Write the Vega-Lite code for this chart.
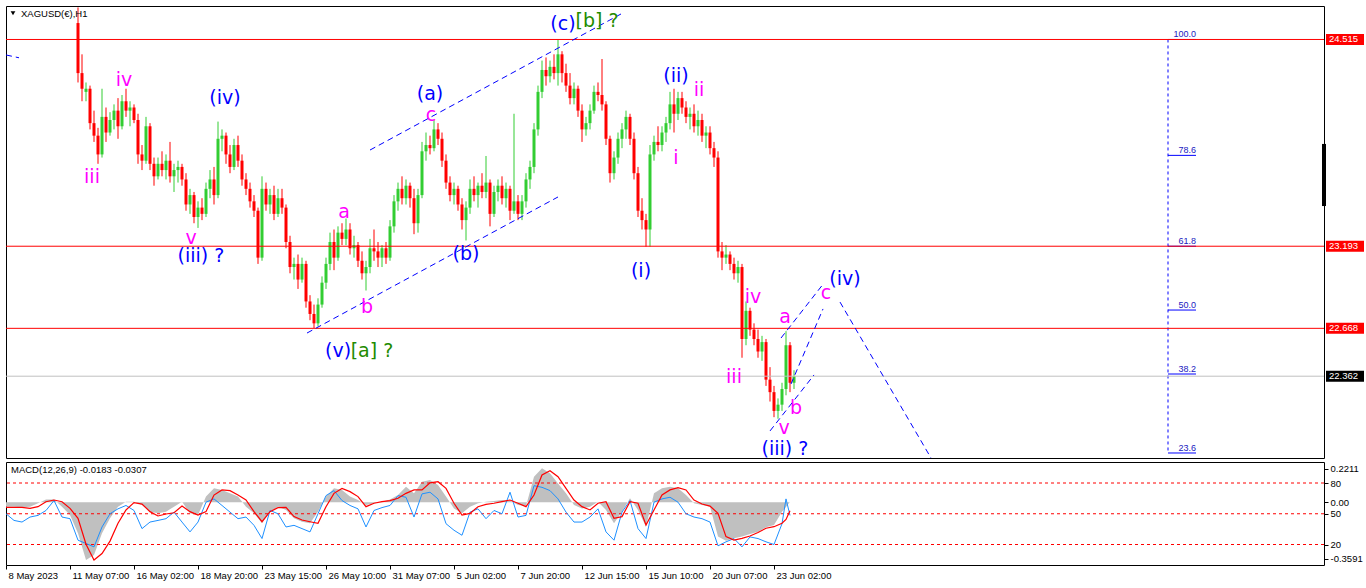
{
"$schema":"https://vega.github.io/schema/vega-lite/v6.json",
"background":"white",
"padding":{"left":5,"top":5,"right":0,"bottom":22},
"bounds":"flush",
"spacing":4,
"config":{"view":{"stroke":"black","strokeWidth":1},
"axis":{"labelFont":"Liberation Sans","labelFontSize":9.5,"labelColor":"black","tickColor":"black","domain":false,"grid":false,"tickSize":4,"labelPadding":2}},
"datasets":{
"candles":[
{"i":72,"o":24.62,"h":24.72,"l":24.24,"c":24.30},{"i":76,"o":24.30,"h":24.42,"l":24.12,"c":24.20},{"i":80,"o":24.18,"h":24.24,"l":24.12,"c":24.20},{"i":84,"o":24.20,"h":24.22,"l":23.94,"c":23.98},{"i":88,"o":23.98,"h":24.06,"l":23.86,"c":23.90},{"i":92,"o":23.90,"h":23.95,"l":23.72,"c":23.78},{"i":96,"o":23.78,"h":24.20,"l":23.76,"c":24.02},{"i":100,"o":24.02,"h":24.08,"l":23.86,"c":23.92},{"i":104,"o":23.92,"h":24.05,"l":23.90,"c":24.00},{"i":108,"o":24.00,"h":24.10,"l":23.94,"c":24.06},{"i":112,"o":24.06,"h":24.14,"l":23.88,"c":23.96},{"i":116,"o":23.96,"h":24.16,"l":23.94,"c":24.12},{"i":120,"o":24.12,"h":24.20,"l":24.02,"c":24.06},{"i":124,"o":24.06,"h":24.12,"l":23.96,"c":24.08},{"i":128,"o":24.08,"h":24.10,"l":23.98,"c":24.00},{"i":132,"o":24.00,"h":24.04,"l":23.72,"c":23.78},{"i":136,"o":23.78,"h":23.84,"l":23.68,"c":23.74},{"i":140,"o":23.74,"h":24.02,"l":23.72,"c":23.96},{"i":144,"o":23.96,"h":23.98,"l":23.68,"c":23.72},{"i":148,"o":23.72,"h":23.76,"l":23.58,"c":23.64},{"i":152,"o":23.64,"h":23.76,"l":23.62,"c":23.72},{"i":156,"o":23.72,"h":23.80,"l":23.64,"c":23.68},{"i":160,"o":23.68,"h":23.78,"l":23.62,"c":23.74},{"i":164,"o":23.74,"h":23.86,"l":23.60,"c":23.64},{"i":168,"o":23.64,"h":23.72,"l":23.54,"c":23.68},{"i":172,"o":23.68,"h":23.74,"l":23.60,"c":23.70},{"i":176,"o":23.70,"h":23.72,"l":23.58,"c":23.62},{"i":180,"o":23.62,"h":23.66,"l":23.42,"c":23.46},{"i":184,"o":23.46,"h":23.56,"l":23.40,"c":23.52},{"i":188,"o":23.52,"h":23.54,"l":23.34,"c":23.38},{"i":192,"o":23.38,"h":23.48,"l":23.31,"c":23.44},{"i":196,"o":23.44,"h":23.50,"l":23.36,"c":23.40},{"i":200,"o":23.40,"h":23.60,"l":23.38,"c":23.56},{"i":204,"o":23.56,"h":23.68,"l":23.50,"c":23.62},{"i":208,"o":23.62,"h":23.70,"l":23.46,"c":23.52},{"i":212,"o":23.52,"h":23.99,"l":23.50,"c":23.88},{"i":216,"o":23.88,"h":23.94,"l":23.80,"c":23.90},{"i":220,"o":23.90,"h":23.92,"l":23.72,"c":23.78},{"i":224,"o":23.78,"h":23.84,"l":23.66,"c":23.70},{"i":228,"o":23.70,"h":23.88,"l":23.68,"c":23.84},{"i":232,"o":23.84,"h":23.90,"l":23.70,"c":23.74},{"i":236,"o":23.74,"h":23.78,"l":23.58,"c":23.62},{"i":240,"o":23.62,"h":23.66,"l":23.52,"c":23.56},{"i":244,"o":23.56,"h":23.60,"l":23.44,"c":23.48},{"i":248,"o":23.48,"h":23.52,"l":23.38,"c":23.42},{"i":252,"o":23.42,"h":23.44,"l":23.08,"c":23.12},{"i":256,"o":23.12,"h":23.64,"l":23.10,"c":23.56},{"i":260,"o":23.56,"h":23.60,"l":23.42,"c":23.46},{"i":264,"o":23.46,"h":23.56,"l":23.40,"c":23.52},{"i":268,"o":23.52,"h":23.58,"l":23.36,"c":23.40},{"i":272,"o":23.40,"h":23.56,"l":23.38,"c":23.50},{"i":276,"o":23.50,"h":23.56,"l":23.40,"c":23.44},{"i":280,"o":23.44,"h":23.46,"l":23.18,"c":23.22},{"i":284,"o":23.22,"h":23.26,"l":23.02,"c":23.06},{"i":288,"o":23.06,"h":23.12,"l":22.98,"c":23.08},{"i":292,"o":23.08,"h":23.14,"l":22.92,"c":22.98},{"i":296,"o":22.98,"h":23.12,"l":22.96,"c":23.08},{"i":300,"o":23.08,"h":23.10,"l":22.80,"c":22.84},{"i":304,"o":22.84,"h":22.88,"l":22.72,"c":22.76},{"i":308,"o":22.76,"h":22.82,"l":22.67,"c":22.70},{"i":312,"o":22.70,"h":22.86,"l":22.68,"c":22.82},{"i":316,"o":22.82,"h":23.00,"l":22.80,"c":22.96},{"i":320,"o":22.96,"h":23.12,"l":22.92,"c":23.08},{"i":324,"o":23.08,"h":23.28,"l":23.04,"c":23.22},{"i":328,"o":23.22,"h":23.30,"l":23.04,"c":23.12},{"i":332,"o":23.12,"h":23.32,"l":23.10,"c":23.28},{"i":336,"o":23.28,"h":23.34,"l":23.20,"c":23.24},{"i":340,"o":23.24,"h":23.37,"l":23.20,"c":23.30},{"i":344,"o":23.30,"h":23.34,"l":23.14,"c":23.18},{"i":348,"o":23.18,"h":23.26,"l":23.12,"c":23.20},{"i":352,"o":23.20,"h":23.22,"l":23.06,"c":23.10},{"i":356,"o":23.10,"h":23.16,"l":22.98,"c":23.02},{"i":360,"o":23.02,"h":23.10,"l":22.91,"c":23.06},{"i":364,"o":23.06,"h":23.24,"l":23.02,"c":23.18},{"i":368,"o":23.18,"h":23.30,"l":23.10,"c":23.16},{"i":372,"o":23.16,"h":23.22,"l":23.06,"c":23.12},{"i":376,"o":23.12,"h":23.20,"l":23.06,"c":23.18},{"i":380,"o":23.18,"h":23.22,"l":23.08,"c":23.12},{"i":384,"o":23.12,"h":23.36,"l":23.10,"c":23.32},{"i":388,"o":23.32,"h":23.52,"l":23.28,"c":23.48},{"i":392,"o":23.48,"h":23.60,"l":23.42,"c":23.56},{"i":396,"o":23.56,"h":23.64,"l":23.46,"c":23.50},{"i":400,"o":23.50,"h":23.62,"l":23.46,"c":23.58},{"i":404,"o":23.58,"h":23.60,"l":23.44,"c":23.50},{"i":408,"o":23.50,"h":23.56,"l":23.27,"c":23.34},{"i":412,"o":23.34,"h":23.56,"l":23.28,"c":23.52},{"i":416,"o":23.52,"h":23.86,"l":23.50,"c":23.80},{"i":420,"o":23.80,"h":23.92,"l":23.74,"c":23.84},{"i":424,"o":23.84,"h":23.90,"l":23.78,"c":23.82},{"i":428,"o":23.82,"h":24.00,"l":23.80,"c":23.94},{"i":432,"o":23.94,"h":23.98,"l":23.84,"c":23.88},{"i":436,"o":23.88,"h":23.92,"l":23.70,"c":23.74},{"i":440,"o":23.74,"h":23.78,"l":23.56,"c":23.60},{"i":444,"o":23.60,"h":23.64,"l":23.48,"c":23.52},{"i":448,"o":23.52,"h":23.60,"l":23.46,"c":23.56},{"i":452,"o":23.56,"h":23.58,"l":23.42,"c":23.46},{"i":456,"o":23.46,"h":23.50,"l":23.30,"c":23.36},{"i":460,"o":23.36,"h":23.48,"l":23.23,"c":23.44},{"i":464,"o":23.44,"h":23.62,"l":23.40,"c":23.56},{"i":468,"o":23.56,"h":23.64,"l":23.48,"c":23.52},{"i":472,"o":23.52,"h":23.60,"l":23.44,"c":23.58},{"i":476,"o":23.58,"h":23.66,"l":23.50,"c":23.54},{"i":480,"o":23.54,"h":23.77,"l":23.50,"c":23.60},{"i":484,"o":23.60,"h":23.62,"l":23.32,"c":23.40},{"i":488,"o":23.40,"h":23.58,"l":23.38,"c":23.54},{"i":492,"o":23.54,"h":23.62,"l":23.48,"c":23.58},{"i":496,"o":23.58,"h":23.64,"l":23.46,"c":23.50},{"i":500,"o":23.50,"h":23.60,"l":23.44,"c":23.56},{"i":504,"o":23.56,"h":23.58,"l":23.36,"c":23.42},{"i":508,"o":23.42,"h":24.04,"l":23.40,"c":23.48},{"i":512,"o":23.48,"h":23.52,"l":23.36,"c":23.40},{"i":516,"o":23.40,"h":23.52,"l":23.36,"c":23.48},{"i":520,"o":23.48,"h":23.66,"l":23.44,"c":23.62},{"i":524,"o":23.62,"h":23.74,"l":23.56,"c":23.70},{"i":528,"o":23.70,"h":23.98,"l":23.66,"c":23.94},{"i":532,"o":23.94,"h":24.22,"l":23.90,"c":24.18},{"i":536,"o":24.18,"h":24.38,"l":24.14,"c":24.32},{"i":540,"o":24.32,"h":24.40,"l":24.22,"c":24.28},{"i":544,"o":24.28,"h":24.38,"l":24.24,"c":24.34},{"i":548,"o":24.34,"h":24.42,"l":24.26,"c":24.30},{"i":552,"o":24.30,"h":24.515,"l":24.22,"c":24.42},{"i":556,"o":24.42,"h":24.44,"l":24.24,"c":24.30},{"i":560,"o":24.30,"h":24.36,"l":24.18,"c":24.22},{"i":564,"o":24.22,"h":24.30,"l":24.10,"c":24.14},{"i":568,"o":24.14,"h":24.24,"l":24.10,"c":24.20},{"i":572,"o":24.20,"h":24.22,"l":24.02,"c":24.06},{"i":576,"o":24.06,"h":24.10,"l":23.86,"c":23.94},{"i":580,"o":23.94,"h":24.02,"l":23.90,"c":23.98},{"i":584,"o":23.98,"h":24.10,"l":23.94,"c":24.06},{"i":588,"o":24.06,"h":24.22,"l":24.04,"c":24.18},{"i":592,"o":24.18,"h":24.24,"l":24.12,"c":24.16},{"i":596,"o":24.16,"h":24.39,"l":24.06,"c":24.10},{"i":600,"o":24.10,"h":24.12,"l":23.84,"c":23.88},{"i":604,"o":23.88,"h":23.90,"l":23.60,"c":23.66},{"i":608,"o":23.66,"h":23.80,"l":23.62,"c":23.76},{"i":612,"o":23.76,"h":23.92,"l":23.72,"c":23.88},{"i":616,"o":23.88,"h":23.98,"l":23.82,"c":23.94},{"i":620,"o":23.94,"h":24.06,"l":23.88,"c":24.02},{"i":624,"o":24.02,"h":24.04,"l":23.84,"c":23.88},{"i":628,"o":23.88,"h":23.92,"l":23.62,"c":23.66},{"i":632,"o":23.66,"h":23.70,"l":23.38,"c":23.42},{"i":636,"o":23.42,"h":23.50,"l":23.30,"c":23.36},{"i":640,"o":23.36,"h":23.40,"l":23.19,"c":23.30},{"i":644,"o":23.30,"h":23.84,"l":23.19,"c":23.78},{"i":648,"o":23.78,"h":23.90,"l":23.74,"c":23.86},{"i":652,"o":23.86,"h":23.96,"l":23.80,"c":23.84},{"i":656,"o":23.84,"h":23.96,"l":23.80,"c":23.92},{"i":660,"o":23.92,"h":24.02,"l":23.86,"c":23.98},{"i":664,"o":23.98,"h":24.18,"l":23.94,"c":24.10},{"i":668,"o":24.10,"h":24.20,"l":23.92,"c":24.04},{"i":672,"o":24.04,"h":24.18,"l":24.00,"c":24.14},{"i":676,"o":24.14,"h":24.18,"l":24.04,"c":24.08},{"i":680,"o":24.08,"h":24.12,"l":23.98,"c":24.02},{"i":684,"o":24.02,"h":24.08,"l":23.94,"c":24.04},{"i":688,"o":24.04,"h":24.10,"l":23.92,"c":23.96},{"i":692,"o":23.96,"h":24.06,"l":23.90,"c":24.00},{"i":696,"o":24.00,"h":24.04,"l":23.86,"c":23.90},{"i":700,"o":23.90,"h":23.96,"l":23.82,"c":23.92},{"i":704,"o":23.92,"h":23.96,"l":23.78,"c":23.82},{"i":708,"o":23.82,"h":23.86,"l":23.70,"c":23.76},{"i":712,"o":23.76,"h":23.80,"l":23.12,"c":23.16},{"i":716,"o":23.16,"h":23.22,"l":23.04,"c":23.12},{"i":720,"o":23.12,"h":23.20,"l":23.08,"c":23.14},{"i":724,"o":23.14,"h":23.16,"l":23.04,"c":23.08},{"i":728,"o":23.08,"h":23.12,"l":22.98,"c":23.02},{"i":732,"o":23.02,"h":23.10,"l":22.96,"c":23.06},{"i":736,"o":23.06,"h":23.08,"l":22.48,"c":22.60},{"i":740,"o":22.60,"h":22.84,"l":22.56,"c":22.78},{"i":744,"o":22.78,"h":22.80,"l":22.62,"c":22.66},{"i":748,"o":22.66,"h":22.70,"l":22.56,"c":22.60},{"i":752,"o":22.60,"h":22.66,"l":22.48,"c":22.52},{"i":756,"o":22.52,"h":22.62,"l":22.46,"c":22.58},{"i":760,"o":22.58,"h":22.60,"l":22.30,"c":22.34},{"i":764,"o":22.34,"h":22.42,"l":22.20,"c":22.26},{"i":768,"o":22.26,"h":22.30,"l":22.10,"c":22.14},{"i":772,"o":22.14,"h":22.22,"l":22.09,"c":22.18},{"i":776,"o":22.18,"h":22.32,"l":22.14,"c":22.28},{"i":780,"o":22.28,"h":22.65,"l":22.24,"c":22.56},{"i":784,"o":22.56,"h":22.58,"l":22.26,"c":22.32},{"i":788,"o":22.32,"h":22.40,"l":22.28,"c":22.362}
],
"levels":[{"p":24.515,"kind":"r"},{"p":23.193,"kind":"r"},{"p":22.668,"kind":"r"},{"p":22.362,"kind":"g"}],
"fib":[{"lv":"100.0","p":24.515},{"lv":"78.6","p":23.774},{"lv":"61.8","p":23.193},{"lv":"50.0","p":22.785},{"lv":"38.2","p":22.376},{"lv":"23.6","p":21.871}],
"trend":[{"id":"u","i":364,"p":23.808},{"id":"u","i":615,"p":24.678},{"id":"l","i":301,"p":22.638},{"id":"l","i":552,"p":23.508},{"id":"e1","i":775,"p":22.606},{"id":"e1","i":818,"p":22.958},{"id":"e2","i":764,"p":22.012},{"id":"e2","i":808,"p":22.370},{"id":"e3","i":785,"p":22.312},{"id":"e3","i":817,"p":22.792},{"id":"e4","i":834,"p":22.836},{"id":"e4","i":925,"p":21.839},{"id":"t0","i":0,"p":24.416},{"id":"t0","i":13,"p":24.398}],
"waves":[
{"t":"iii","i":86,"p":23.597,"g":"m"},{"t":"iv","i":118,"p":24.218,"g":"m"},{"t":"v","i":185,"p":23.207,"g":"m"},{"t":"a","i":338,"p":23.374,"g":"m"},{"t":"b","i":361,"p":22.766,"g":"m"},{"t":"c","i":425,"p":23.994,"g":"m"},{"t":"i","i":670,"p":23.719,"g":"m"},{"t":"ii","i":693,"p":24.154,"g":"m"},{"t":"iv","i":747,"p":22.83,"g":"m"},{"t":"iii","i":728,"p":22.318,"g":"m"},{"t":"a","i":779,"p":22.702,"g":"m"},{"t":"b","i":790,"p":22.12,"g":"m"},{"t":"v","i":778,"p":21.992,"g":"m"},{"t":"c","i":820,"p":22.856,"g":"m"},
{"t":"(iv)","i":219,"p":24.102,"g":"b"},{"t":"(iii) ?","i":195,"p":23.092,"g":"b"},{"t":"(v)","i":332,"p":22.485,"g":"b"},{"t":"[a] ?","i":366,"p":22.485,"g":"g"},{"t":"(a)","i":424,"p":24.128,"g":"b"},{"t":"(b)","i":460,"p":23.105,"g":"b"},{"t":"(c)","i":557,"p":24.576,"g":"b"},{"t":"[b] ?","i":591,"p":24.595,"g":"g"},{"t":"(ii)","i":670,"p":24.243,"g":"b"},{"t":"(i)","i":635,"p":22.996,"g":"b"},{"t":"(iv)","i":839,"p":22.945,"g":"b"},{"t":"(iii) ?","i":779,"p":21.858,"g":"b"}
],
"macd":[
{"i":0,"m":-0.028,"sg":-0.032,"k":50.0},{"i":8,"m":-0.028,"sg":-0.032,"k":43.5},{"i":16,"m":-0.032,"sg":-0.032,"k":41.9},{"i":24,"m":-0.028,"sg":-0.039,"k":46.8},{"i":32,"m":-0.006,"sg":-0.028,"k":48.4},{"i":40,"m":0.019,"sg":0.004,"k":53.2},{"i":48,"m":0.019,"sg":0.015,"k":62.9},{"i":56,"m":-0.028,"sg":0.004,"k":46.8},{"i":64,"m":-0.082,"sg":-0.039,"k":45.2},{"i":72,"m":-0.2,"sg":-0.103,"k":24.2},{"i":80,"m":-0.372,"sg":-0.27,"k":21.0},{"i":88,"m":-0.34,"sg":-0.372,"k":17.7},{"i":96,"m":-0.2,"sg":-0.33,"k":37.1},{"i":104,"m":-0.103,"sg":-0.25,"k":50.0},{"i":112,"m":-0.028,"sg":-0.135,"k":54.8},{"i":120,"m":0.004,"sg":-0.049,"k":58.1},{"i":128,"m":0.004,"sg":-0.002,"k":53.2},{"i":136,"m":-0.017,"sg":-0.011,"k":35.5},{"i":144,"m":-0.06,"sg":-0.06,"k":41.9},{"i":152,"m":-0.071,"sg":-0.088,"k":43.5},{"i":160,"m":-0.06,"sg":-0.075,"k":45.2},{"i":168,"m":-0.028,"sg":-0.067,"k":51.6},{"i":176,"m":0.004,"sg":-0.024,"k":41.9},{"i":184,"m":-0.071,"sg":-0.06,"k":32.3},{"i":192,"m":-0.082,"sg":-0.082,"k":41.9},{"i":200,"m":0.037,"sg":-0.06,"k":61.3},{"i":208,"m":0.09,"sg":0.047,"k":64.5},{"i":216,"m":0.08,"sg":0.08,"k":58.1},{"i":224,"m":0.058,"sg":0.075,"k":51.6},{"i":232,"m":0.037,"sg":0.047,"k":45.2},{"i":240,"m":-0.028,"sg":0.015,"k":46.8},{"i":248,"m":-0.071,"sg":-0.06,"k":38.7},{"i":256,"m":-0.135,"sg":-0.125,"k":25.8},{"i":264,"m":-0.06,"sg":-0.06,"k":53.2},{"i":272,"m":-0.028,"sg":-0.034,"k":50.0},{"i":280,"m":-0.049,"sg":-0.032,"k":37.1},{"i":288,"m":-0.103,"sg":-0.092,"k":38.7},{"i":296,"m":-0.125,"sg":-0.114,"k":35.5},{"i":304,"m":-0.135,"sg":-0.125,"k":32.3},{"i":312,"m":-0.06,"sg":-0.135,"k":50.0},{"i":320,"m":0.037,"sg":-0.028,"k":67.7},{"i":328,"m":0.09,"sg":0.058,"k":72.6},{"i":336,"m":0.08,"sg":0.09,"k":62.9},{"i":344,"m":0.037,"sg":0.069,"k":58.1},{"i":352,"m":0.015,"sg":0.037,"k":54.8},{"i":360,"m":-0.017,"sg":-0.028,"k":37.1},{"i":368,"m":-0.006,"sg":-0.006,"k":53.2},{"i":376,"m":0.004,"sg":0.004,"k":56.0},{"i":384,"m":0.019,"sg":0.011,"k":58.1},{"i":392,"m":0.047,"sg":0.026,"k":67.7},{"i":400,"m":0.101,"sg":0.058,"k":66.1},{"i":408,"m":0.058,"sg":0.08,"k":46.8},{"i":416,"m":0.133,"sg":0.08,"k":69.4},{"i":424,"m":0.144,"sg":0.126,"k":71.0},{"i":432,"m":0.112,"sg":0.133,"k":64.5},{"i":440,"m":0.037,"sg":0.09,"k":40.3},{"i":448,"m":-0.039,"sg":-0.006,"k":33.9},{"i":456,"m":-0.071,"sg":-0.082,"k":29.0},{"i":464,"m":-0.028,"sg":-0.071,"k":51.6},{"i":472,"m":-0.006,"sg":-0.028,"k":54.8},{"i":480,"m":0.004,"sg":-0.013,"k":45.2},{"i":488,"m":0.009,"sg":-0.006,"k":53.2},{"i":496,"m":0.015,"sg":0.004,"k":50.0},{"i":504,"m":0.011,"sg":0.015,"k":71.0},{"i":512,"m":-0.017,"sg":-0.006,"k":46.8},{"i":520,"m":-0.024,"sg":-0.028,"k":48.4},{"i":528,"m":0.165,"sg":0.047,"k":77.4},{"i":536,"m":0.219,"sg":0.176,"k":75.8},{"i":544,"m":0.187,"sg":0.204,"k":72.6},{"i":552,"m":0.122,"sg":0.165,"k":64.5},{"i":560,"m":0.058,"sg":0.09,"k":51.6},{"i":568,"m":-0.017,"sg":0.015,"k":41.9},{"i":576,"m":-0.039,"sg":-0.028,"k":41.9},{"i":584,"m":-0.028,"sg":-0.049,"k":46.8},{"i":592,"m":0.004,"sg":-0.006,"k":54.8},{"i":600,"m":-0.049,"sg":0.004,"k":32.3},{"i":608,"m":-0.135,"sg":-0.103,"k":24.2},{"i":616,"m":-0.06,"sg":-0.092,"k":51.6},{"i":624,"m":0.026,"sg":0.004,"k":62.9},{"i":632,"m":-0.049,"sg":-0.006,"k":35.5},{"i":640,"m":-0.157,"sg":-0.146,"k":25.8},{"i":648,"m":0.058,"sg":-0.049,"k":61.3},{"i":656,"m":0.09,"sg":0.047,"k":64.5},{"i":664,"m":0.101,"sg":0.08,"k":66.1},{"i":672,"m":0.09,"sg":0.095,"k":61.3},{"i":680,"m":0.047,"sg":0.08,"k":50.0},{"i":688,"m":-0.006,"sg":0.015,"k":46.8},{"i":696,"m":-0.017,"sg":-0.011,"k":45.2},{"i":704,"m":-0.028,"sg":-0.024,"k":41.9},{"i":712,"m":-0.221,"sg":-0.071,"k":18.7},{"i":720,"m":-0.247,"sg":-0.221,"k":22.6},{"i":728,"m":-0.232,"sg":-0.243,"k":25.8},{"i":736,"m":-0.221,"sg":-0.232,"k":17.7},{"i":744,"m":-0.204,"sg":-0.217,"k":27.4},{"i":752,"m":-0.189,"sg":-0.195,"k":25.8},{"i":760,"m":-0.161,"sg":-0.167,"k":22.6},{"i":768,"m":-0.146,"sg":-0.157,"k":20.0},{"i":776,"m":-0.06,"sg":-0.135,"k":40.3},{"i":780,"m":-0.03,"sg":-0.11,"k":64.5},{"i":784,"m":0.004,"sg":-0.054,"k":48.4}
],
"stochlv":[{"lv":80},{"lv":50},{"lv":20}],
"macdlabel":[{"i":5,"t":"MACD(12,26,9) -0.0183 -0.0307"}]
},
"vconcat":[
{
"width":1318,"height":452,
"layer":[
{"data":{"name":"candles"},"mark":{"type":"rule","strokeWidth":1,"clip":true},
"encoding":{
"x":{"field":"i","type":"quantitative","scale":{"domain":[0,1318],"nice":false,"zero":false},"axis":null},
"y":{"field":"h","type":"quantitative","scale":{"domain":[21.839,24.729],"nice":false,"zero":false},"axis":{"orient":"right","title":null,"values":[24.595,24.385,24.175,23.96,23.75,23.54,23.33,23.12,22.91,22.7,22.49,22.28,22.07,21.86],"format":".3f"}},
"y2":{"field":"l"},
"color":{"condition":{"test":"datum.c >= datum.o","value":"#32cd32"},"value":"#ff0000"}}},
{"data":{"name":"candles"},"mark":{"type":"rule","strokeWidth":3,"clip":true},
"encoding":{
"x":{"field":"i","type":"quantitative","axis":null},
"y":{"field":"o","type":"quantitative","axis":null},
"y2":{"field":"c"},
"color":{"condition":{"test":"datum.c >= datum.o","value":"#32cd32"},"value":"#ff0000"}}},
{"data":{"name":"fib"},"mark":{"type":"rule","color":"#0000ff","strokeDash":[3,3],"strokeWidth":1},
"encoding":{"x":{"datum":1162,"type":"quantitative","axis":null},"y":{"aggregate":"max","field":"p","type":"quantitative","axis":null},"y2":{"aggregate":"min","field":"p"}}},
{"data":{"name":"fib"},"mark":{"type":"rule","color":"#0000ff","strokeWidth":1},
"encoding":{"x":{"datum":1162,"type":"quantitative","axis":null},"x2":{"datum":1190},"y":{"field":"p","type":"quantitative","axis":null}}},
{"data":{"name":"fib"},"mark":{"type":"text","align":"right","baseline":"alphabetic","dy":-2,"font":"Liberation Sans","fontSize":9,"color":"#2020c0"},
"encoding":{"x":{"datum":1190,"type":"quantitative","axis":null},"y":{"field":"p","type":"quantitative","axis":null},"text":{"field":"lv"}}},
{"data":{"name":"levels"},"mark":{"type":"rule","strokeWidth":1},
"encoding":{"y":{"field":"p","type":"quantitative","axis":null},
"color":{"condition":{"test":"datum.kind == 'r'","value":"#ff0000"},"value":"#c0c0c0"}}},
{"data":{"name":"trend"},"mark":{"type":"line","color":"#0000ff","strokeWidth":1,"strokeDash":[6,4],"clip":true},
"encoding":{"x":{"field":"i","type":"quantitative","axis":null},"y":{"field":"p","type":"quantitative","axis":null},"detail":{"field":"id"}}},
{"data":{"name":"waves"},"mark":{"type":"text","align":"center","baseline":"alphabetic","font":"DejaVu Sans","fontSize":19},
"encoding":{"x":{"field":"i","type":"quantitative","axis":null},"y":{"field":"p","type":"quantitative","axis":null},"text":{"field":"t"},
"color":{"field":"g","type":"nominal","scale":{"domain":["m","b","g"],"range":["#ff00ff","#0000ff","#228b00"]},"legend":null}}},
{"data":{"values":[{"t":"XAGUSD(€),H1"}]},"mark":{"type":"text","align":"left","baseline":"alphabetic","font":"Liberation Sans","fontSize":9.5,"color":"black"},
"encoding":{"x":{"datum":15,"type":"quantitative","axis":null},"y":{"datum":24.659,"type":"quantitative","axis":null},"text":{"field":"t"}}},
{"data":{"values":[{"t":"menu"}]},"mark":{"type":"point","shape":"triangle-down","filled":true,"size":22,"color":"black","opacity":1},
"encoding":{"x":{"datum":7,"type":"quantitative","axis":null},"y":{"datum":24.683,"type":"quantitative","axis":null}}},
{"data":{"values":[{"t":"scale"}]},"mark":{"type":"rule","strokeWidth":4,"color":"black"},
"encoding":{"x":{"datum":1318,"type":"quantitative","axis":null},"y":{"datum":23.847,"type":"quantitative","axis":null},"y2":{"datum":23.45}}},
{"data":{"name":"levels"},"mark":{"type":"rule","strokeWidth":11,"strokeCap":"butt"},
"encoding":{"x":{"datum":1320,"type":"quantitative","axis":null},"x2":{"datum":1358},"y":{"field":"p","type":"quantitative","axis":null},
"color":{"condition":{"test":"datum.kind == 'r'","value":"#ff0000"},"value":"#000000"}}},
{"data":{"name":"levels"},"mark":{"type":"text","align":"left","baseline":"middle","font":"Liberation Sans","fontSize":9.5,"color":"white"},
"encoding":{"x":{"datum":1323,"type":"quantitative","axis":null},"y":{"field":"p","type":"quantitative","axis":null},"text":{"field":"p","format":".3f"}}}
]
},
{
"width":1318,"height":103,
"resolve":{"scale":{"y":"independent"}},
"layer":[
{"data":{"name":"macd"},"mark":{"type":"area","color":"#c0c0c0","clip":true},
"encoding":{
"x":{"field":"i","type":"quantitative","scale":{"domain":[0,1318],"nice":false,"zero":false},
"axis":{"orient":"bottom","values":[0,64,128,192,256,320,384,448,512,576,640,704,768],"labelExpr":"datum.value == 0 ? '8 May 2023' : datum.value == 64 ? '11 May 07:00' : datum.value == 128 ? '16 May 02:00' : datum.value == 192 ? '18 May 20:00' : datum.value == 256 ? '23 May 15:00' : datum.value == 320 ? '26 May 10:00' : datum.value == 384 ? '31 May 07:00' : datum.value == 448 ? '5 Jun 02:00' : datum.value == 512 ? '7 Jun 20:00' : datum.value == 576 ? '12 Jun 15:00' : datum.value == 640 ? '15 Jun 10:00' : datum.value == 704 ? '20 Jun 07:00' : '23 Jun 02:00'","labelAlign":"left","labelBaseline":"top","labelFlush":false,"labelOverlap":false,"labelOffset":2,"labelPadding":1,"title":null}},
"y":{"field":"m","type":"quantitative","scale":{"domain":[-0.404,0.26],"nice":false,"zero":false},"axis":null},
"y2":{"datum":0}}},
{"data":{"name":"stochlv"},"mark":{"type":"rule","color":"#ff0000","strokeDash":[3,3],"strokeWidth":1},
"encoding":{"y":{"field":"lv","type":"quantitative","scale":{"domain":[0,100.5],"nice":false,"zero":false},
"axis":{"orient":"right","title":null,"values":[93.96,80,61.2,50,20,6.2],"labelExpr":"datum.value == 80 ? '80' : datum.value == 50 ? '50' : datum.value == 20 ? '20' : datum.value > 90 ? '0.2211' : datum.value > 60 ? '0.00' : '-0.3591'"}}}},
{"data":{"name":"macd"},"mark":{"type":"line","color":"#1e90ff","strokeWidth":1,"clip":true},
"encoding":{"x":{"field":"i","type":"quantitative"},"y":{"field":"k","type":"quantitative","scale":{"domain":[0,100.5],"nice":false,"zero":false},"axis":null}}},
{"data":{"name":"macd"},"mark":{"type":"line","color":"#ff0000","strokeWidth":1.2,"clip":true},
"encoding":{"x":{"field":"i","type":"quantitative"},"y":{"field":"sg","type":"quantitative","scale":{"domain":[-0.404,0.26],"nice":false,"zero":false},"axis":null}}},
{"data":{"name":"macdlabel"},"mark":{"type":"text","align":"left","baseline":"alphabetic","font":"Liberation Sans","fontSize":9.5,"color":"black"},
"encoding":{"x":{"field":"i","type":"quantitative"},"y":{"datum":89.5,"type":"quantitative","scale":{"domain":[0,100.5],"nice":false,"zero":false},"axis":null},"text":{"field":"t"}}}
]
}
]
}
